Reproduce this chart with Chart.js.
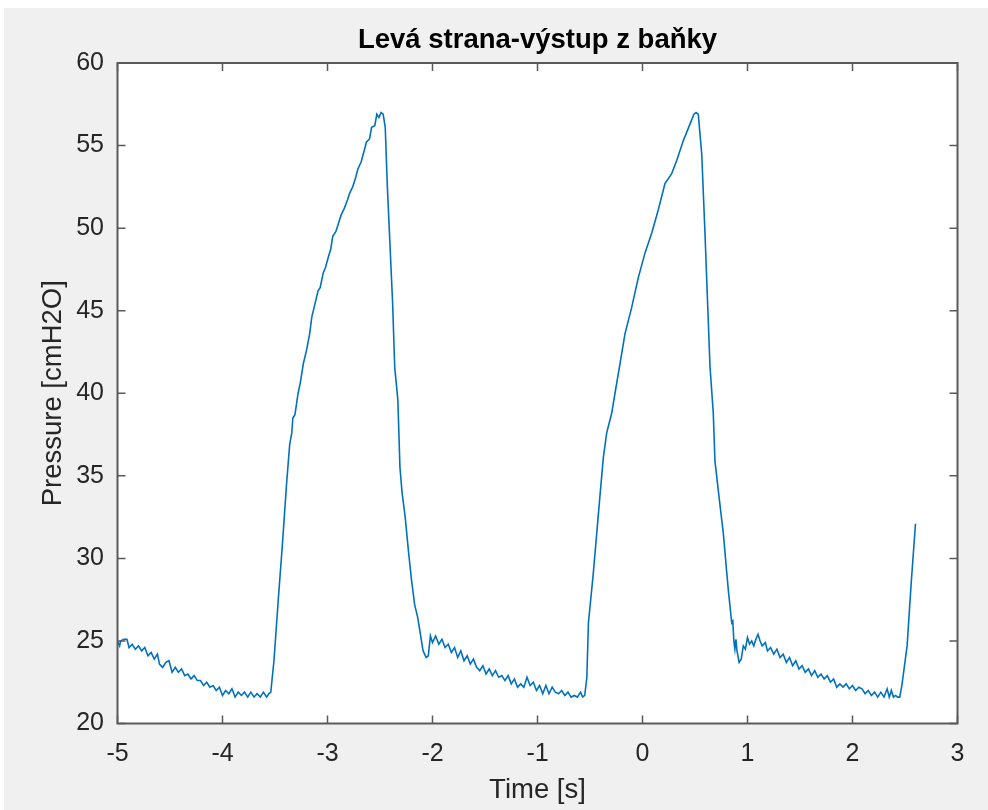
<!DOCTYPE html>
<html>
<head>
<meta charset="utf-8">
<script src="https://cdn.jsdelivr.net/npm/chart.js@4/dist/chart.umd.min.js"></script>
<style>
  html, body { margin: 0; padding: 0; background: #ffffff; }
  canvas { display: block; }
</style>
</head>
<body>
<canvas id="pressureChart" width="988" height="810"></canvas>
<script>
// time samples [s]
const timeS = [
  -5.00, -4.98, -4.97, -4.94, -4.91, -4.89, -4.86, -4.83, -4.80, -4.77, -4.74, -4.71, -4.68, -4.65, -4.62, -4.60,
  -4.57, -4.54, -4.51, -4.48, -4.45, -4.42, -4.39, -4.36, -4.33, -4.30, -4.27, -4.24, -4.21, -4.18, -4.15, -4.12,
  -4.09, -4.06, -4.03, -4.00, -3.97, -3.94, -3.91, -3.88, -3.85, -3.82, -3.79, -3.76, -3.73, -3.70, -3.67, -3.64,
  -3.61, -3.58, -3.56,
  -3.54, -3.51, -3.47, -3.43, -3.39, -3.36, -3.34, -3.33, -3.31, -3.28, -3.26, -3.23, -3.20, -3.17, -3.15, -3.12,
  -3.09, -3.07, -3.04, -3.02, -2.99, -2.97, -2.95, -2.92, -2.89, -2.87, -2.84, -2.81, -2.79, -2.76, -2.73, -2.71,
  -2.68, -2.65, -2.63, -2.60, -2.58, -2.55, -2.53, -2.51, -2.49, -2.47, -2.45, -2.43, -2.41, -2.38, -2.36, -2.33,
  -2.31, -2.29, -2.26, -2.23, -2.20, -2.17, -2.14, -2.12, -2.09, -2.06, -2.04, -2.02,
  -2.00, -1.97, -1.94, -1.91, -1.88, -1.85, -1.82, -1.79, -1.76, -1.73, -1.70, -1.67, -1.64, -1.61, -1.58, -1.55,
  -1.52, -1.49, -1.46, -1.43, -1.40, -1.37, -1.34, -1.31, -1.28, -1.25, -1.22, -1.19, -1.16, -1.13, -1.10, -1.07,
  -1.04, -1.01, -0.98, -0.95, -0.92, -0.89, -0.86, -0.83, -0.80, -0.77, -0.74, -0.71, -0.68, -0.65, -0.62, -0.59,
  -0.57, -0.55,
  -0.53, -0.515, -0.47, -0.436, -0.405, -0.373, -0.341, -0.293, -0.262, -0.214, -0.167, -0.103, -0.040, 0.024,
  0.088, 0.150, 0.214, 0.278, 0.326, 0.389, 0.452, 0.490, 0.510, 0.531, 0.564, 0.595, 0.643, 0.674, 0.690, 0.722,
  0.770, 0.80, 0.82, 0.84, 0.85, 0.86, 0.87, 0.88, 0.89,
  0.90, 0.92, 0.94, 0.96, 0.98, 1.00, 1.02, 1.04, 1.06, 1.08, 1.10, 1.12, 1.14, 1.17, 1.19, 1.22,
  1.25, 1.28, 1.31, 1.34, 1.37, 1.40, 1.43, 1.46, 1.49, 1.52, 1.55, 1.58, 1.61, 1.64, 1.67, 1.70,
  1.73, 1.76, 1.79, 1.82, 1.85, 1.88, 1.91, 1.94, 1.97, 2.00, 2.03, 2.06, 2.09, 2.12, 2.15, 2.18,
  2.21, 2.24, 2.27, 2.30, 2.33, 2.35, 2.37, 2.39, 2.41, 2.43, 2.45, 2.47, 2.52, 2.56, 2.60
];

// pressure [cmH2O]
const pressure = [
  25.0, 24.7, 25.0, 25.1, 25.1, 24.6, 24.8, 24.5, 24.7, 24.4, 24.6, 24.1, 24.3, 23.9, 24.2, 23.6,
  23.4, 23.7, 23.8, 23.1, 23.4, 23.1, 23.3, 22.9, 23.0, 22.7, 22.9, 22.6, 22.6, 22.3, 22.5, 22.2,
  22.3, 22.0, 22.2, 21.7, 22.0, 21.8, 22.1, 21.6, 21.9, 21.7, 21.9, 21.6, 21.9, 21.6, 21.8, 21.6,
  21.9, 21.6, 21.8,
  21.9, 23.8, 27.4, 30.8, 34.5, 36.9, 37.6, 38.5, 38.7, 40.0, 40.6, 41.8, 42.6, 43.6, 44.6, 45.4,
  46.2, 46.4, 47.3, 47.6, 48.3, 48.7, 49.5, 49.8, 50.4, 50.8, 51.2, 51.7, 52.1, 52.5, 53.1, 53.6,
  54.0, 54.7, 55.2, 55.4, 56.1, 56.2, 56.9, 56.7, 57.0, 56.9, 56.1, 52.5, 49.7, 45.5, 41.6, 39.6,
  35.5, 34.0, 32.5, 30.5, 28.7, 27.2, 26.4, 25.6, 24.4, 24.0, 24.1, 25.3,
  24.9, 25.3, 24.8, 25.1, 24.6, 24.8, 24.3, 24.6, 24.0, 24.4, 23.8, 24.1, 23.6, 23.9, 23.4, 23.2,
  23.5, 23.0, 23.3, 22.9, 23.2, 22.8, 22.9, 22.6, 22.9, 22.4, 22.7, 22.2, 22.4, 22.2, 22.8, 22.3,
  22.5, 22.0, 22.3, 21.8, 22.3, 21.8, 22.2, 21.9, 21.8, 22.0, 21.7, 21.9, 21.6, 21.7, 21.6, 21.9,
  21.6, 21.7,
  22.8, 26.1, 29.0, 31.5, 33.8, 36.1, 37.6, 38.8, 40.0, 41.8, 43.6, 45.2, 47.0, 48.5,
  49.7, 51.1, 52.7, 53.3, 54.1, 55.3, 56.3, 56.9, 57.0, 56.9, 54.5, 49.7, 41.6, 38.8, 35.9, 34.1,
  31.5, 29.3, 27.9, 26.7, 26.1, 26.2, 25.0, 24.5, 25.1,
  24.4, 23.7, 23.9, 24.7, 24.5, 25.2, 24.8, 25.0, 24.7, 25.1, 25.4, 25.0, 24.7, 24.9, 24.4, 24.6,
  24.2, 24.5, 24.0, 24.2, 23.7, 24.0, 23.5, 23.8, 23.3, 23.5, 23.1, 23.3, 22.9, 23.2, 22.8, 23.0,
  22.7, 22.9, 22.5, 22.7, 22.2, 22.4, 22.2, 22.4, 22.1, 22.3, 22.0, 22.2, 22.1, 21.8, 22.0, 21.7,
  21.9, 21.6, 21.9, 21.6, 22.1, 21.6, 22.0, 21.6, 21.7, 21.6, 21.6, 22.3, 24.7, 28.6, 32.1
];

const xTicks = [-5, -4, -3, -2, -1, 0, 1, 2, 3];
const yTicks = [20, 25, 30, 35, 40, 45, 50, 55, 60];

const axisColor = '#262626';
const fontFamily = '"Liberation Sans", Arial, Helvetica, sans-serif';

// MATLAB-like look: grey figure, white axes, box with inward ticks
const matlabAxes = {
  id: 'matlabAxes',
  beforeDraw(chart) {
    const c = chart.ctx;
    const a = chart.chartArea;
    c.save();
    c.fillStyle = '#ffffff';
    c.fillRect(0, 0, chart.width, chart.height);
    c.fillStyle = '#f0f0f0';
    c.fillRect(4, 8, chart.width - 4, chart.height - 8);
    c.fillStyle = '#ffffff';
    c.fillRect(a.left, a.top, a.right - a.left, a.bottom - a.top);
    c.restore();
  },
  afterDraw(chart) {
    const c = chart.ctx;
    const a = chart.chartArea;
    const xs = chart.scales.x;
    const ys = chart.scales.y;
    const len = 8;
    c.save();
    c.strokeStyle = '#5a5a5a';
    c.lineWidth = 1.5;
    c.beginPath();
    xTicks.forEach(v => {
      const px = xs.getPixelForValue(v);
      c.moveTo(px, a.bottom); c.lineTo(px, a.bottom - len);
      c.moveTo(px, a.top); c.lineTo(px, a.top + len);
    });
    yTicks.forEach(v => {
      const py = ys.getPixelForValue(v);
      c.moveTo(a.left, py); c.lineTo(a.left + len, py);
      c.moveTo(a.right, py); c.lineTo(a.right - len, py);
    });
    c.stroke();
    c.lineWidth = 2;
    c.strokeRect(a.left, a.top, a.right - a.left, a.bottom - a.top);
    c.restore();
  }
};

document.addEventListener("DOMContentLoaded", function() {
  const points = timeS.map((t, i) => ({ x: t, y: pressure[i] }));

  const ctx = document.getElementById('pressureChart').getContext('2d');
  new Chart(ctx, {
    type: 'line',
    data: {
      datasets: [{
        data: points,
        borderColor: '#0072BD',
        borderWidth: 1.6,
        pointRadius: 0,
        tension: 0,
        fill: false
      }]
    },
    options: {
      responsive: false,
      devicePixelRatio: 1,
      animation: false,
      layout: { padding: { left: 0, right: 30.5, top: 0, bottom: 0 } },
      plugins: {
        legend: { display: false },
        tooltip: { enabled: false },
        title: {
          display: true,
          fullSize: false,
          text: 'Levá strana-výstup z baňky',
          color: '#000000',
          font: { family: fontFamily, size: 27.5, weight: 'bold', lineHeight: 1.2 },
          padding: { top: 24, bottom: 6 }
        }
      },
      scales: {
        x: {
          type: 'linear',
          min: -5,
          max: 3,
          afterFit: s => { s.height = 86.5; },
          afterBuildTicks: s => { s.ticks = xTicks.map(v => ({ value: v })); },
          grid: { display: false, drawTicks: false },
          border: { display: false },
          ticks: {
            color: axisColor,
            padding: 16,
            maxRotation: 0,
            font: { family: fontFamily, size: 25 }
          },
          title: {
            display: true,
            text: 'Time [s]',
            color: axisColor,
            font: { family: fontFamily, size: 27.5, lineHeight: 1.2 },
            padding: { top: 0, bottom: 3 }
          }
        },
        y: {
          type: 'linear',
          min: 20,
          max: 60,
          afterFit: s => { s.width = 117.5; },
          afterBuildTicks: s => { s.ticks = yTicks.map(v => ({ value: v })); },
          grid: { display: false, drawTicks: false },
          border: { display: false },
          ticks: {
            color: axisColor,
            padding: 13.5,
            font: { family: fontFamily, size: 25 }
          },
          title: {
            display: true,
            text: 'Pressure [cmH2O]',
            color: axisColor,
            font: { family: fontFamily, size: 27.5, lineHeight: 1.2 },
            padding: { top: 37, bottom: 0 }
          }
        }
      }
    },
    plugins: [matlabAxes]
  });
});
</script>
</body>
</html>
